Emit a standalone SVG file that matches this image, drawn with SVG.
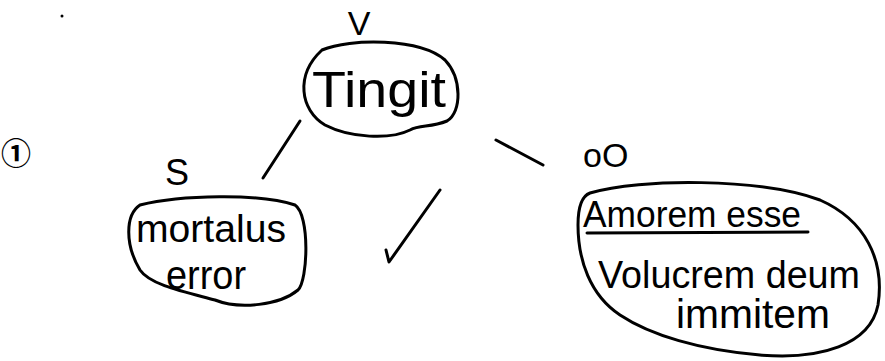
<svg xmlns="http://www.w3.org/2000/svg" width="885" height="361" viewBox="0 0 885 361">
<style>
.shape{fill:none;stroke:#000;stroke-width:3;stroke-linecap:round;stroke-linejoin:round}
.edge{fill:none;stroke:#000;stroke-width:3;stroke-linecap:round;stroke-linejoin:round}
.t{font-family:"Liberation Sans","DejaVu Sans",sans-serif;fill:#000}
.sym{font-family:"Noto Sans CJK SC","DejaVu Sans",sans-serif;fill:#000;font-weight:bold}
</style>
<rect width="885" height="361" fill="#fff"/>
<circle cx="62" cy="16" r="1.5" fill="#000"/>
<g id="edges">
<path class="edge" d="M300,121 L263,178"/>
<path class="edge" d="M496,140 L543,165"/>
<path class="edge" d="M440,190 L389,262 L386,250"/>
</g>
<g id="node-tingit">
<path class="shape" d="M322,50 C350,38 420,38 445,60 C462,78 462,112 447,121 C430,128 420,124 410,130 C390,140 350,138 325,125 C300,110 295,75 322,50 Z"/>
<text class="t" x="312" y="107" font-size="50" textLength="134" lengthAdjust="spacingAndGlyphs">Tingit</text>
<text class="t" x="359" y="35" font-size="34" text-anchor="middle">V</text>
</g>
<g id="node-mortalus">
<path class="shape" d="M140,205 C180,195 260,193 295,205 C310,215 308,280 298,290 C280,305 240,310 215,300 C185,292 150,285 140,270 C125,245 125,215 140,205 Z"/>
<text class="t" x="136" y="242" font-size="38" textLength="150" lengthAdjust="spacingAndGlyphs">mortalus</text>
<text class="t" x="166" y="289" font-size="40" textLength="80" lengthAdjust="spacingAndGlyphs">error</text>
<text class="t" x="177" y="185" font-size="36" text-anchor="middle">S</text>
</g>
<g id="node-amorem">
<path class="shape" d="M590,193 C640,178 760,178 820,200 C865,220 885,260 878,305 C870,345 820,360 760,355 C700,350 650,335 620,315 C590,295 578,260 578,225 C578,205 582,196 590,193 Z"/>
<text class="t" x="583" y="227" font-size="36" textLength="218" lengthAdjust="spacingAndGlyphs">Amorem esse</text>
<path class="shape" d="M587,233 L808,232"/>
<text class="t" x="598" y="288" font-size="38" textLength="262" lengthAdjust="spacingAndGlyphs">Volucrem deum</text>
<text class="t" x="676" y="328" font-size="40" textLength="154" lengthAdjust="spacingAndGlyphs">immitem</text>
<text class="t" x="583" y="167" font-size="34">oO</text>
</g>
<text class="sym" x="16" y="164" font-size="30" text-anchor="middle">①</text>
</svg>
